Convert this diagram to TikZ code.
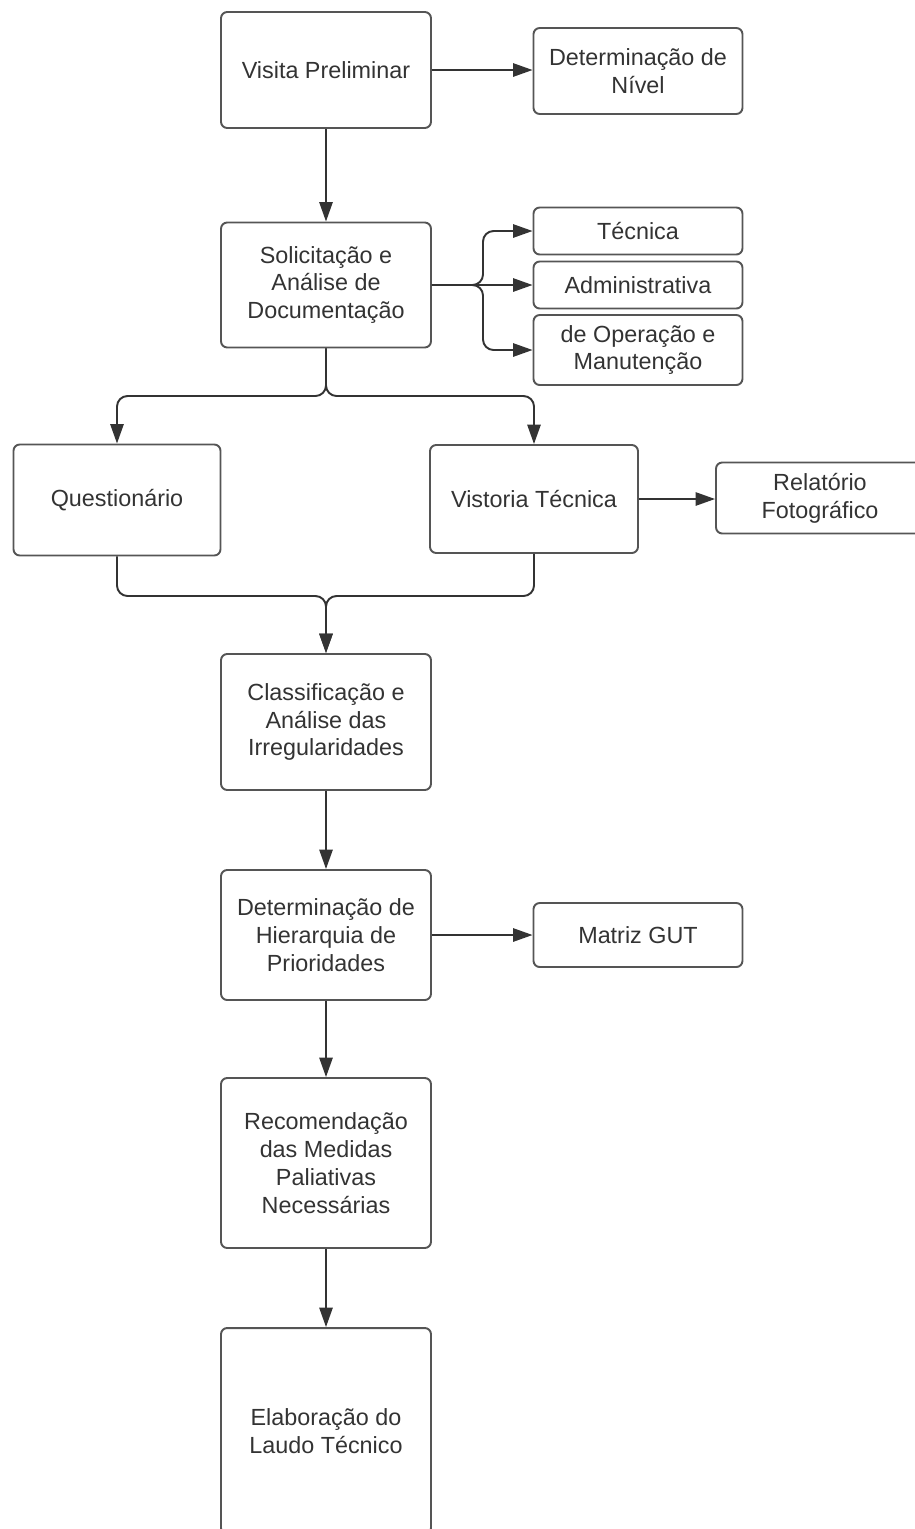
\documentclass[tikz,border=0pt]{standalone}
\usepackage{fontspec}
\setmainfont{Liberation Sans}
\usetikzlibrary{arrows.meta}
\definecolor{linecol}{HTML}{333333}
\definecolor{boxcol}{HTML}{555555}

\begin{document}
\begin{tikzpicture}[x=0.02cm,y=-0.02cm,line width=1.1pt,
                    box/.style={draw=boxcol,rounded corners=3.5pt,align=center,text=linecol,
                      inner sep=2pt,font=\fontsize{13.3}{15.9}\selectfont},
                    arr/.style={draw=linecol,rounded corners=6pt,
                      -{Triangle[length=11pt,width=7.5pt]}}]

       \useasboundingbox (0,0) rectangle (914,1529);

       % main column
       \node[box,minimum width=4.2cm,minimum height=2.32cm] (visita) at (326,70) {Visita Preliminar};
       \node[box,minimum width=4.2cm,minimum height=2.5cm] (solic) at (326,285) {Solicitação e\\Análise de\\Documentação};
       \node[box,minimum width=4.14cm,minimum height=2.22cm] (quest) at (117,500) {Questionário};
       \node[box,minimum width=4.16cm,minimum height=2.16cm] (vistoria) at (534,499) {Vistoria Técnica};
       \node[box,minimum width=4.2cm,minimum height=2.72cm] (classif) at (326,722) {Classificação e\\Análise das\\Irregularidades};
       \node[box,minimum width=4.2cm,minimum height=2.6cm] (hierarq) at (326,935) {Determinação de\\Hierarquia de\\Prioridades};
       \node[box,minimum width=4.2cm,minimum height=3.4cm] (recom) at (326,1163) {Recomendação\\das Medidas\\Paliativas\\Necessárias};
       \node[box,minimum width=4.2cm,minimum height=4.12cm] (elab) at (326,1431) {Elaboração do\\Laudo Técnico};

       % side boxes
       \node[box,minimum width=4.18cm,minimum height=1.72cm] (nivel) at (638,71) {Determinação de\\Nível};
       \node[box,minimum width=4.18cm,minimum height=0.94cm] (tecnica) at (638,231) {Técnica};
       \node[box,minimum width=4.18cm,minimum height=0.94cm] (admin) at (638,285) {Administrativa};
       \node[box,minimum width=4.18cm,minimum height=1.4cm] (operacao) at (638,350) {de Operação e\\Manutenção};
       \node[box,minimum width=4.16cm,minimum height=1.42cm] (relatorio) at (820,498) {Relatório\\Fotográfico};
       \node[box,minimum width=4.18cm,minimum height=1.28cm] (gut) at (638,935) {Matriz GUT};

       \coordinate (docsplit) at (483,285);
       \coordinate (split) at (326,396);
       \coordinate (merge) at (326,596);

       \draw[arr] (visita.east) -- (visita.east -| nivel.west);
       \draw[arr] (visita) -- (solic);
       \draw[arr] (solic.east) -- (admin.west);
       \draw[arr] (solic.east) -- (docsplit) |- (tecnica.west);
       \draw[arr] (solic.east) -- (docsplit) |- (operacao.west);
       \draw[arr] (solic.south) -- (split) -| (quest.north);
       \draw[arr] (solic.south) -- (split) -| (vistoria.north);
       \draw[arr] (vistoria.east) -- (vistoria.east -| relatorio.west);
       \draw[arr] (quest.south) |- (merge) -- (classif.north);
       \draw[arr] (vistoria.south) |- (merge) -- (classif.north);
       \draw[arr] (classif) -- (hierarq);
       \draw[arr] (hierarq) -- (gut);
       \draw[arr] (hierarq) -- (recom);
       \draw[arr] (recom) -- (elab);
\end{tikzpicture}
\end{document}
